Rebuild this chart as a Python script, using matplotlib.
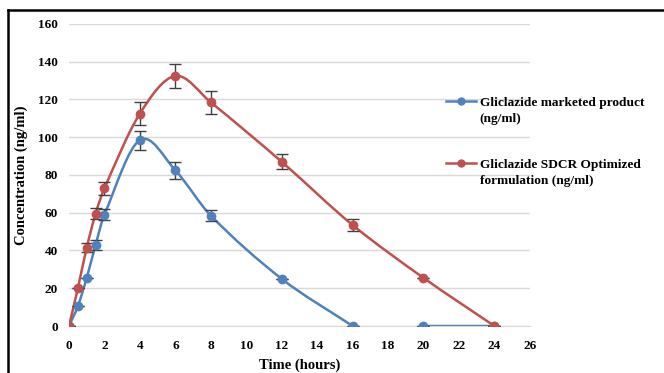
import matplotlib
matplotlib.use("Agg")
import matplotlib.pyplot as plt
from matplotlib.path import Path
from matplotlib.patches import PathPatch
from matplotlib.lines import Line2D
from matplotlib.legend_handler import HandlerLine2D

# ---- data ----
time = [0, 0.5, 1, 1.5, 2, 4, 6, 8, 12, 16, 20, 24]
marketed = [0, 10.5, 25.5, 43, 59, 98.5, 82.5, 58.5, 25, 0, 0, 0]
marketed_err = [0, 0, 0, 2.5, 3, 5, 4.5, 3, 0, 0, 0, 0]
optimized = [0, 20, 41.5, 59.5, 73, 112.5, 132.5, 118.5, 87, 53.5, 25.5, 0]
optimized_err = [0, 0, 2.5, 3, 3.5, 6, 6.5, 6, 4, 3, 0, 0]
labels = ["Gliclazide marketed product\n(ng/ml)",
          "Gliclazide SDCR Optimized\nformulation (ng/ml)"]
xticks = list(range(0, 27, 2))
yticks = list(range(0, 161, 20))

BLUE = "#4F81BD"
RED = "#C0504D"
SERIF = "Liberation Serif"


def smooth_path(xs, ys):
    """Smoothed line drawn as cubic Bezier segments (Hermite, x-parameterised)."""
    n = len(xs)
    slopes = []
    for i in range(n):
        a, b = max(i - 1, 0), min(i + 1, n - 1)
        slopes.append((ys[b] - ys[a]) / (xs[b] - xs[a]))
    verts = [(xs[0], ys[0])]
    codes = [Path.MOVETO]
    for i in range(n - 1):
        h = xs[i + 1] - xs[i]
        c1 = (xs[i] + h / 3, ys[i] + slopes[i] * h / 3)
        c2 = (xs[i + 1] - h / 3, ys[i + 1] - slopes[i + 1] * h / 3)
        verts += [c1, c2, (xs[i + 1], ys[i + 1])]
        codes += [Path.CURVE4] * 3
    return Path(verts, codes)


class TopHandler(HandlerLine2D):
    def create_artists(self, legend, orig_handle, xdescent, ydescent,
                       width, height, fontsize, trans):
        return super().create_artists(legend, orig_handle, xdescent,
                                      ydescent - 1.45 * fontsize, width, height,
                                      fontsize, trans)


fig = plt.figure(figsize=(6.64, 3.73), dpi=100)
ax = fig.add_axes([0.1039, 0.126, 0.694, 0.8097])

ax.set_xlim(0, 26)
ax.set_ylim(0, 160)
ax.set_xticks(xticks)
ax.set_yticks(yticks)
ax.yaxis.grid(True, color="#D9D9D9", linewidth=1)
ax.set_axisbelow(True)
for s in ["top", "right", "left"]:
    ax.spines[s].set_visible(False)
ax.spines["bottom"].set_color("#D9D9D9")
ax.tick_params(axis="y", length=0, pad=8)
ax.tick_params(axis="x", length=0, pad=10)
for lab in ax.get_xticklabels() + ax.get_yticklabels():
    lab.set_fontfamily(SERIF)
    lab.set_fontweight("bold")
    lab.set_fontsize(9.5)

idx16 = time.index(16)
ax.add_patch(PathPatch(smooth_path(time[:idx16 + 1], marketed[:idx16 + 1]),
                       facecolor="none", edgecolor=BLUE, linewidth=1.8, zorder=3))
ax.add_patch(PathPatch(smooth_path(time[idx16 + 1:], marketed[idx16 + 1:]),
                       facecolor="none", edgecolor=BLUE, linewidth=1.8, zorder=3))
ax.add_patch(PathPatch(smooth_path(time, optimized),
                       facecolor="none", edgecolor=RED, linewidth=1.8, zorder=3))

for ys, err, c in [(marketed, marketed_err, BLUE), (optimized, optimized_err, RED)]:
    ax.errorbar(time, ys, yerr=err, fmt="none", ecolor="#404040",
                elinewidth=1, capsize=4, capthick=1, zorder=4)
    ax.plot(time, ys, linestyle="none", marker="o", markersize=6,
            color=c, zorder=5)

ax.set_xlabel("Time (hours)", fontfamily=SERIF, fontweight="bold",
              fontsize=10.5, labelpad=4.5)
ax.set_ylabel("Concentration (ng/ml)", fontfamily=SERIF, fontweight="bold",
              fontsize=10.5, labelpad=7)

handles = [Line2D([0], [0], color=BLUE, marker="o", markersize=5, linewidth=1.8),
           Line2D([0], [0], color=RED, marker="o", markersize=5, linewidth=1.8)]
leg = fig.legend(handles, labels, loc="upper left",
                 bbox_to_anchor=(0.654, 0.772), frameon=False,
                 prop={"family": SERIF, "weight": "bold", "size": 9.6},
                 handlelength=2.2, handletextpad=0.3, labelspacing=2.6,
                 handler_map={Line2D: TopHandler()})
for t in leg.get_texts():
    t.set_linespacing(1.4)

fig.add_artist(Line2D([8 / 664, 1], [1 - 10 / 373, 1 - 10 / 373],
                      transform=fig.transFigure, color="black", linewidth=1.8))
fig.add_artist(Line2D([8 / 664, 8 / 664], [0, 1 - 10 / 373],
                      transform=fig.transFigure, color="black", linewidth=1.8))

fig.savefig("out.png", dpi=100)
